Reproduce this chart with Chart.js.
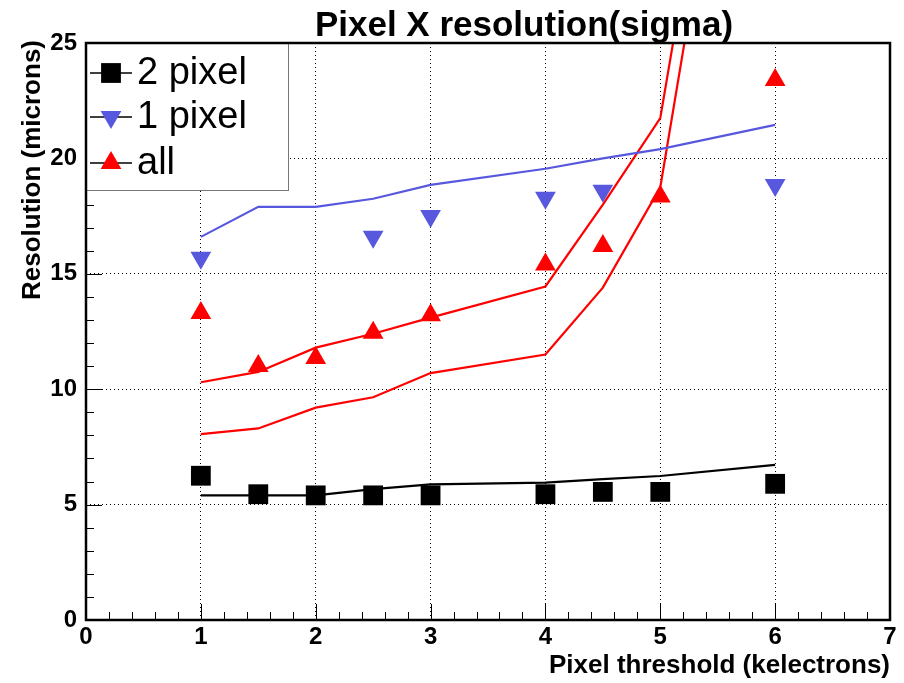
<!DOCTYPE html>
<html>
<head>
<meta charset="utf-8">
<title>Pixel X resolution</title>
<script src="https://cdn.jsdelivr.net/npm/chart.js@4.4.1/dist/chart.umd.min.js"></script>
<style>
  html, body { margin: 0; padding: 0; background: #fff; }
  canvas { display: block; }
</style>
</head>
<body>
<canvas id="resChart" width="904" height="683"></canvas>
<script>
// threshold scan points (kelectrons)
const thresholds = [1, 1.5, 2, 2.5, 3, 4, 4.5, 5, 6];

// measured resolution (microns)
const twoPixelRes = [6.25, 5.45, 5.4, 5.4, 5.4, 5.45, 5.55, 5.55, 5.9];
const onePixelRes = [15.7, null, null, 16.6, 17.5, 18.3, 18.6, null, 18.85];
const allRes = [13.3, 11.0, 11.35, 12.45, 13.2, 15.4, 16.2, 18.35, 23.4];

// expected resolution curves
const twoPixelCurve = [5.4, 5.4, 5.4, 5.67, 5.88, 5.95, 6.1, 6.24, 6.72];
const onePixelCurve = [16.6, 17.9, 17.9, 18.25, 18.85, 19.55, 20.0, 20.4, 21.45];
const allCurveHigh = [10.3, 10.75, 11.8, 12.4, 13.1, 14.45, 18.0, 21.75, 51];
const allCurveLow = [8.05, 8.3, 9.2, 9.65, 10.7, 11.5, 14.4, 18.75, 48.5];

// axis tick labels
const xTicks = [0, 1, 2, 3, 4, 5, 6, 7];
const yTicks = [0, 5, 10, 15, 20, 25];

const BLUE = 'rgb(88, 88, 222)';
const RED = '#ff0000';
const FONT = '"Liberation Sans", Arial, Helvetica, sans-serif';

function toPoints(ys) {
    return thresholds.map((x, i) => ({ x: x, y: ys[i] }));
}

function markerSet(label, ys, color, style, rotation, radius) {
    return {
        label: label,
        data: toPoints(ys),
        showLine: false,
        pointStyle: style,
        rotation: rotation,
        pointRadius: radius,
        pointHoverRadius: radius,
        backgroundColor: color,
        borderColor: color,
        pointBorderWidth: 0
    };
}

function curveSet(ys, color) {
    return {
        data: toPoints(ys),
        showLine: true,
        pointRadius: 0,
        borderColor: color,
        borderWidth: 2.2,
        tension: 0,
        fill: false
    };
}

// legend entries, frame, inward ticks and texts in ROOT style
const rootDecor = {
    id: 'rootDecor',
    afterDatasetsDraw(chart) {
        const ctx = chart.ctx;
        const area = chart.chartArea;
        const xs = chart.scales.x, ys = chart.scales.y;
        ctx.save();
        ctx.strokeStyle = '#000';
        ctx.lineWidth = 1;
        // x ticks, every 0.2 with majors on integers
        for (let i = 0; i <= 35; i++) {
            const px = Math.round(xs.getPixelForValue(i / 5)) + 0.5;
            const len = i % 5 === 0 ? 16 : 8;
            ctx.beginPath();
            ctx.moveTo(px, area.bottom);
            ctx.lineTo(px, area.bottom - len);
            ctx.stroke();
        }
        // y ticks, every 1 with majors on multiples of 5
        for (let i = 0; i <= 25; i++) {
            const py = Math.round(ys.getPixelForValue(i)) + 0.5;
            const len = i % 5 === 0 ? 16 : 8;
            ctx.beginPath();
            ctx.moveTo(area.left, py);
            ctx.lineTo(area.left + len, py);
            ctx.stroke();
        }
        // legend box
        const lx = area.left, ly = area.top, lw = 202, lh = 147;
        ctx.fillStyle = '#fff';
        ctx.fillRect(lx, ly, lw, lh);
        ctx.strokeStyle = '#777';
        ctx.strokeRect(lx + 0.5, ly + 0.5, lw, lh);
        const entries = [0, 2, 4];
        const rows = [73, 117, 163];
        ctx.font = '38px ' + FONT;
        ctx.textBaseline = 'middle';
        entries.forEach((di, k) => {
            const ds = chart.data.datasets[di];
            const y = rows[k];
            ctx.strokeStyle = '#000';
            ctx.lineWidth = 1.5;
            ctx.beginPath();
            ctx.moveTo(lx + 4, y);
            ctx.lineTo(lx + 46, y);
            ctx.stroke();
            ctx.fillStyle = ds.backgroundColor;
            ctx.strokeStyle = ds.borderColor;
            Chart.helpers.drawPoint(ctx, {
                pointStyle: ds.pointStyle,
                rotation: ds.rotation,
                radius: ds.pointRadius,
                borderWidth: 0
            }, lx + 25, y);
            ctx.fillStyle = '#000';
            ctx.fillText(ds.label, lx + 51, y + 1);
        });
        // frame
        ctx.strokeStyle = '#000';
        ctx.lineWidth = 2.5;
        ctx.strokeRect(area.left, area.top, area.right - area.left, area.bottom - area.top);
        ctx.restore();
    },
    afterDraw(chart) {
        const ctx = chart.ctx;
        ctx.save();
        ctx.fillStyle = '#000';
        ctx.textBaseline = 'alphabetic';
        ctx.font = 'bold 35px ' + FONT;
        ctx.textAlign = 'center';
        ctx.fillText('Pixel X resolution(sigma)', 524, 36);
        ctx.font = 'bold 26px ' + FONT;
        ctx.textAlign = 'right';
        ctx.fillText('Pixel threshold (kelectrons)', 890, 673);
        ctx.translate(40, 40);
        ctx.rotate(-Math.PI / 2);
        ctx.fillText('Resolution (microns)', 0, 0);
        ctx.restore();
    }
};

const ctx = document.getElementById('resChart').getContext('2d');
new Chart(ctx, {
    type: 'scatter',
    data: {
        datasets: [
            markerSet('2 pixel', twoPixelRes, '#000', 'rect', 0, 14),
            curveSet(twoPixelCurve, '#000'),
            markerSet('1 pixel', onePixelRes, BLUE, 'triangle', 180, 12),
            curveSet(onePixelCurve, BLUE),
            markerSet('all', allRes, RED, 'triangle', 0, 12),
            curveSet(allCurveHigh, RED),
            curveSet(allCurveLow, RED)
        ]
    },
    options: {
        responsive: false,
        animation: false,
        events: [],
        layout: { padding: { top: 43, right: 6, left: 0, bottom: 0 } },
        plugins: {
            legend: { display: false },
            title: { display: false },
            tooltip: { enabled: false }
        },
        scales: {
            x: {
                type: 'linear',
                min: 0,
                max: 7,
                afterBuildTicks: axis => { axis.ticks = xTicks.map(v => ({ value: v })); },
                afterFit: axis => { axis.height = 63; },
                grid: { color: '#000', lineWidth: 1, drawTicks: false },
                border: { display: false, dash: [1, 3] },
                ticks: {
                    color: '#000',
                    padding: 3,
                    maxRotation: 0,
                    font: { family: FONT, size: 24, weight: 'bold' }
                }
            },
            y: {
                type: 'linear',
                min: 0,
                max: 25,
                afterBuildTicks: axis => { axis.ticks = yTicks.map(v => ({ value: v })); },
                afterFit: axis => { axis.width = 86; },
                grid: { color: '#000', lineWidth: 1, drawTicks: false },
                border: { display: false, dash: [1, 3] },
                ticks: {
                    color: '#000',
                    padding: 9,
                    font: { family: FONT, size: 24, weight: 'bold' }
                }
            }
        }
    },
    plugins: [rootDecor]
});
</script>
</body>
</html>
